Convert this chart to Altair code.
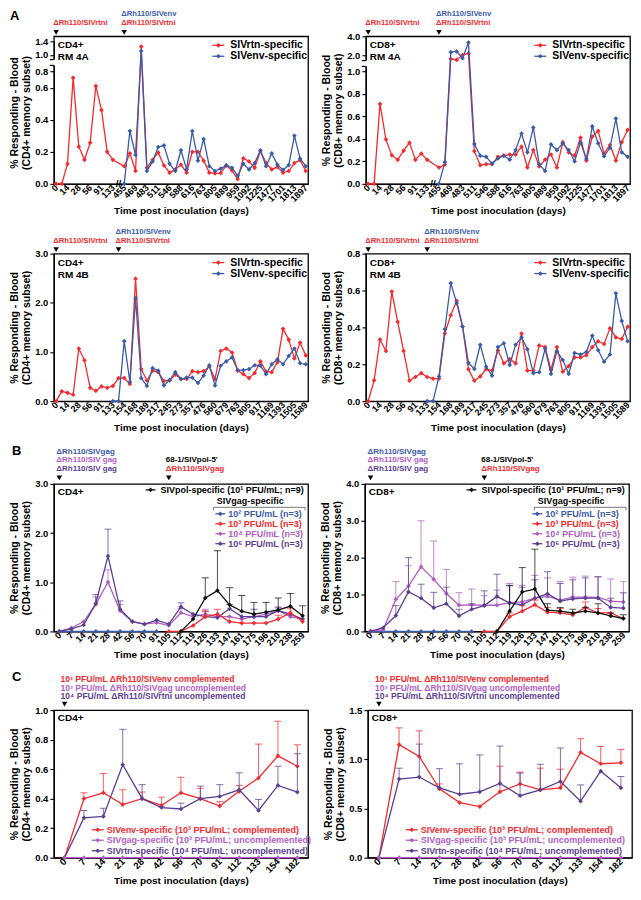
import json
import altair as alt
import pandas as pd

FONT = "Liberation Sans"
RED = "#F42A2E"
BLUE = "#3A5BA8"
PINK = "#B05EC2"
PURP = "#5B3F91"
BLK = "#111111"

# ---------------- Panel A ----------------
A_TOP_DAYS = [0, 7, 14, 21, 28, 42, 56, 70, 91, 112, 133, "brk",
              455, 462, 469, 476, 483, 497, 511, 525, 546, 560, 588, 602, 616,
              700, 763, 784, 805, 847, 889, 924, 959, 1022, 1092, 1162, 1225,
              1351, 1477, 1589, 1701, 1757, 1813, 1855, 1897]
A_TOP_LABELS = [0, 14, 28, 56, 91, 133, 455, 469, 483, 511, 546, 588, 616,
                763, 805, 889, 959, 1092, 1225, 1477, 1701, 1813, 1897]
A_BOT_DAYS = [0, 7, 14, 21, 28, 42, 56, 70, 91, 112, 133, 140, 154, 161, 168,
              175, 189, 203, 217, 231, 245, 259, 273, 301, 357, 413, 476, 518,
              560, 616, 679, 721, 763, 784, 805, 861, 917, 1043, 1169, 1281,
              1393, 1449, 1505, 1547, 1589]
A_BOT_LABELS = [0, 14, 28, 56, 91, 133, 154, 168, 189, 217, 245, 273, 357, 476,
                560, 679, 763, 805, 917, 1169, 1393, 1505, 1589]

A4A_CD4_RTN = [0, 0, 0.125, 0.72, 0.232, 0.15, 0.257, 0.62, 0.46, 0.2, 0.15, None,
               0.11, 0.19, 0.08, 1.24, 0.1, 0.15, 0.195, 0.115, 0.07, 0.09, 0.12,
               0.07, 0.2, 0.2, 0.145, 0.07, 0.065, 0.067, 0.115, 0.083, 0.03, 0.16,
               0.14, 0.1, 0.205, 0.13, 0.09, 0.105, 0.07, 0.08, 0.13, 0.148, 0.08]
A4A_CD4_ENV = [None] * 12 + [0, 0.33, 0.18, 1.11, 0.08, 0.14, 0.23, 0.24, 0.125, 0.08,
                             0.21, 0.09, 0.33, 0.145, 0.28, 0.11, 0.08, 0.095, 0.115,
                             0.1, 0.05, 0.125, 0.09, 0.13, 0.21, 0.11, 0.19, 0.12,
                             0.087, 0.117, 0.3, 0.158, 0.11]
A4A_CD8_RTN = [0, 0, 0.71, 0.395, 0.255, 0.213, 0.295, 0.366, 0.213, 0.268, 0.213, None,
               0.145, 0.17, 1.8, 1.73, 2.07, 2.24, 0.29, 0.165, 0.175, 0.175, 0.24,
               0.25, 0.26, 0.26, 0.33, 0.145, 0.3, 0.155, 0.215, 0.26, 0.145, 0.37,
               0.28, 0.25, 0.41, 0.207, 0.42, 0.47, 0.268, 0.345, 0.207, 0.37, 0.48]
A4A_CD8_ENV = [None] * 12 + [0, 0.193, 2.37, 2.44, 1.84, 3.36, 0.355, 0.25, 0.24, 0.18,
                             0.225, 0.25, 0.215, 0.3, 0.447, 0.28, 0.5, 0.173, 0.115,
                             0.35, 0.3, 0.36, 0.3, 0.2, 0.366, 0.222, 0.51, 0.36,
                             0.245, 0.32, 0.58, 0.28, 0.24]
A4B_CD4_RTN = [0, 0.2, 0.17, 0.13, 1.07, 0.83, 0.27, 0.21, 0.3, 0.27,
               0.31, 0.47, 0.47, 0.35, 2.49, 0.65, 0.42, 0.62, 0.59, 0.41,
               0.42, 0.54, 0.45, 0.45, 0.61, 0.59, 0.61, 0.71, 0.45, 1.02,
               1.07, 0.99, 0.62, 0.55, 0.47, 0.57, 0.81, 0.6, 0.59, 0.79,
               1.47, 1.25, 0.87, 1.19, 0.93]
A4B_CD4_ENV = [None] * 10 + [0, 0, 1.22, 0.39, 2.09, 0.47, 0.31, 0.67, 0.62, 0.32,
                             0.43, 0.59, 0.45, 0.48, 0.48, 0.37, 0.52, 0.73, 0.32, 0.72,
                             0.81, 0.89, 0.63, 0.63, 0.65, 0.73, 0.72, 0.55, 0.75, 0.85,
                             0.75, 0.92, 1.07, 0.77, 0.75]
A4B_CD8_RTN = [0, 0.113, 0.334, 0.272, 0.594, 0.43, 0.272, 0.111, 0.131, 0.152,
               0.131, 0.122, 0.122, 0.367, 0.466, 0.544, 0.405, 0.173, 0.111, 0.134,
               0.173, 0.166, 0.276, 0.205, 0.228, 0.205, 0.367, 0.166, 0.166, 0.302,
               0.293, 0.17, 0.293, 0.16, 0.19, 0.237, 0.237, 0.249, 0.293, 0.325,
               0.31, 0.395, 0.346, 0.337, 0.403]
A4B_CD8_ENV = [None] * 10 + [0, 0, 0.134, 0.39, 0.64, 0.532, 0.405, 0.208, 0.175, 0.306,
                             0.187, 0.138, 0.293, 0.314, 0.196, 0.306, 0.346, 0.281,
                             0.152, 0.157, 0.284, 0.148, 0.27, 0.223, 0.148, 0.261,
                             0.253, 0.267, 0.355, 0.276, 0.214, 0.253, 0.585, 0.435,
                             0.325]

# ---------------- Panel B ----------------
B_DAYS = [0, 7, 14, 21, 28, 42, 56, 70, 91, 105, 112, 119, 126, 133, 147, 161,
          175, 196, 210, 238, 259]
B_CD4_G2 = [0] * 9 + [None] * 12
B_CD4_G3 = [None] * 9 + [0, 0, 0.12, 0.3, 0.35, 0.2, 0.17, 0.17, 0.17, 0.25, 0.38, 0.2]
B_CD4_G3_ERR = [None] * 12 + [0.42, 0.45, None, None, None, None, 0.33, 0.46, None]
B_CD4_POL = [None] * 10 + [0, 0.25, 0.68, 0.83, 0.54, 0.41, 0.35, 0.39, 0.44, 0.51, 0.32]
B_CD4_POL_ERR = [None] * 12 + [1.09, 1.64, 0.89, 0.73, 0.59, 0.59, 0.68, 0.77, 0.52]
B_CD4_G4 = [0, 0.07, 0.2, 0.55, 1.0, 0.42, 0.2, 0.15, 0.18, 0.12, 0.38, 0.3, 0.35,
            0.3, 0.3, 0.25, 0.3, 0.35, 0.42, 0.3, 0.25]
B_CD4_G4_ERR = [None, None, None, 0.7, 1.25, 0.55, None, None, None, None, 0.47,
                None, 0.45, None, None, None, None, None, 0.5, None, None]
B_CD4_G6 = [0, 0.05, 0.13, 0.57, 1.53, 0.45, 0.2, 0.15, 0.23, 0.15, 0.5, 0.35, 0.3,
            0.28, 0.46, 0.3, 0.3, 0.3, 0.42, 0.35, 0.25]
B_CD4_G6_ERR = [None, None, None, 0.75, 2.08, 0.62, None, None, None, None, 0.58,
                None, 0.4, None, 0.55, None, 0.45, None, 0.48, None, None]

B_CD8_G2 = [0] * 9 + [None] * 12
B_CD8_G3 = [None] * 9 + [0, 0, 0.4, 0.55, 0.72, 0.52, 0.5, 0.45, 0.65, 0.5, 0.5, 0.35]
B_CD8_G3_ERR = [None] * 11 + [0.5, 0.7, 0.85, 0.65, 0.62, None, 0.8, 0.62, None, None]
B_CD8_POL = [None] * 10 + [0, 0.55, 1.07, 1.15, 0.58, 0.55, 0.5, 0.55, 0.5, 0.42, 0.35]
B_CD8_POL_ERR = [None] * 11 + [1.24, 1.73, 2.23, 0.75, 0.65, 0.6, 0.65, 0.75, 0.5, 0.45]
B_CD8_G4 = [0, 0.05, 0.87, 1.23, 1.75, 1.41, 1.03, 0.71, 0.72, 0.71, 0.71, 0.78, 0.8,
            0.9, 0.95, 0.85, 0.93, 0.93, 0.92, 0.82, 0.8]
B_CD8_G4_ERR = [None, None, 1.35, 1.78, 3.0, 2.45, 1.68, 1.05, 1.15, 0.97, 1.12, 1.3,
                1.25, 1.52, 1.45, 1.35, 1.47, 1.5, 1.48, 1.42, 1.35]
B_CD8_G6 = [0, 0.1, 0.43, 1.07, 0.9, 0.64, 0.75, 0.42, 0.6, 0.7, 0.95, 0.77, 0.72,
            0.9, 1.02, 0.82, 0.88, 0.9, 0.9, 0.65, 0.63]
B_CD8_G6_ERR = [None, None, 0.7, 2.0, 1.28, 1.06, 1.2, 0.6, 0.75, 1.1, 1.55, 1.25,
                1.2, 1.4, 1.62, 1.3, 1.4, 1.45, 1.48, 0.9, 1.05]

# ---------------- Panel C ----------------
C_DAYS = [0, 7, 14, 21, 28, 42, 56, 70, 91, 112, 133, 154, 182]
C_CD4_ENV = [0, 0.40, 0.44, 0.36, 0.40, 0.355, 0.44, 0.40, 0.35, 0.45, 0.54, 0.69, 0.62]
C_CD4_ENV_ERR = [None, 0.44, 0.57, 0.46, 0.445, 0.41, 0.545, 0.47, 0.38, 0.49, 0.77, 0.925, 0.765]
C_CD4_RTN = [0, 0.27, 0.28, 0.63, 0.40, 0.34, 0.33, 0.40, 0.415, 0.46, 0.32, 0.49, 0.445]
C_CD4_RTN_ERR = [None, 0.32, 0.335, 0.87, 0.495, 0.345, 0.37, 0.485, 0.495, 0.575, 0.395, 0.62, 0.705]
C_CD4_GAG = [0] * 13
C_CD8_ENV = [0, 1.15, 1.03, 0.70, 0.56, 0.52, 0.67, 0.75, 0.69, 0.71, 1.07, 0.955, 0.965]
C_CD8_ENV_ERR = [None, 1.32, 1.29, 0.75, None, None, 0.93, 0.87, 0.91, 0.90, 1.21, 1.13, 1.10]
C_CD8_RTN = [0, 0.80, 0.82, 0.71, 0.645, 0.67, 0.755, 0.63, 0.69, 0.775, 0.575, 0.88, 0.71]
C_CD8_RTN_ERR = [None, 0.91, 1.155, 0.905, 0.955, 1.045, 1.135, 0.86, 0.95, 1.115, 0.74, None, 0.825]
C_CD8_GAG = [0] * 13

YT_CD4 = ["% Responding - Blood", "(CD4+ memory subset)"]
YT_CD8 = ["% Responding - Blood", "(CD8+ memory subset)"]
XT = "Time post inoculation (days)"


def make_x(days, pad, shown=None, lsize=9):
    days_s = [str(d) for d in days]
    kw = dict(labelAngle=-45, labelAlign="right", labelBaseline="middle",
              labelPadding=2, ticks=False, labelOverlap=False, title=XT,
              labelFontSize=lsize)
    if shown is not None:
        kw["labelExpr"] = ("indexof(%s, datum.label) >= 0 ? datum.label : ''"
                           % json.dumps([str(s) for s in shown]))
    return alt.X("d:N", scale=alt.Scale(type="point", domain=days_s, padding=pad),
                 axis=alt.Axis(**kw))


def make_y(field, domain, values, title, rng=None):
    sk = dict(domain=domain, nice=False, zero=False)
    if rng is not None:
        sk["range"] = rng
    return alt.Y(field + ":Q", scale=alt.Scale(**sk),
                 axis=alt.Axis(values=values, format=".1f", title=title,
                               labelOverlap=False, tickSize=4))


def series_layers(x, y, ye, days, vals, errs, color, size=22):
    n = len(days)
    df = pd.DataFrame({"d": [str(d) for d in days], "i": list(range(n)),
                       "v": pd.to_numeric(pd.Series(vals, dtype="object")),
                       "e": pd.to_numeric(pd.Series(errs if errs else [None] * n, dtype="object"))})
    df = df[df["v"].notna()]
    out = []
    if errs:
        de = df[df["e"].notna() & (df["e"] > df["v"] + 1e-9)]
        if len(de):
            out.append(alt.Chart(de).mark_rule(color=color, strokeWidth=1, opacity=0.75)
                       .encode(x=x, y=y, y2="e:Q"))
            out.append(alt.Chart(de).mark_tick(color=color, thickness=1, size=7, opacity=0.75)
                       .encode(x=x, y=ye))
    out.append(alt.Chart(df).mark_line(color=color, strokeWidth=1.3)
               .encode(x=x, y=y, order="i:Q"))
    out.append(alt.Chart(df).mark_point(shape="diamond", filled=True, color=color,
                                        size=size, opacity=1)
               .encode(x=x, y=y))
    return out


def ann(x, day, text, color, yy, size=8.0, dx=-3, align="left"):
    df = pd.DataFrame({"d": [str(day)], "t": [text]})
    return (alt.Chart(df)
            .mark_text(font=FONT, fontSize=size, fontWeight="bold", color=color,
                       align=align, baseline="middle", dx=dx)
            .encode(x=x, y=alt.value(yy), text="t:N"))


def arrow(x, day, yy=-4):
    df = pd.DataFrame({"d": [str(day)]})
    return (alt.Chart(df)
            .mark_point(shape="triangle-down", filled=True, color="black", size=30, opacity=1)
            .encode(x=x, y=alt.value(yy)))


def ftxt(text, xx, yy, color="black", size=10, align="left"):
    df = pd.DataFrame({"t": [text]})
    return (alt.Chart(df)
            .mark_text(font=FONT, fontSize=size, fontWeight="bold", color=color,
                       align=align, baseline="middle")
            .encode(x=alt.value(xx), y=alt.value(yy), text="t:N"))


def frule(x0, x1, yy, color="black", sw=1.3, y1=None):
    one = pd.DataFrame({"a": [0]})
    enc = dict(x=alt.value(x0), x2=alt.value(x1), y=alt.value(yy))
    if y1 is not None:
        enc["y2"] = alt.value(y1)
    return alt.Chart(one).mark_rule(color=color, strokeWidth=sw).encode(**enc)


def ybreak(y0, y1):
    one = pd.DataFrame({"a": [0]})
    mask = (alt.Chart(one).mark_rect(color="white", opacity=1)
            .encode(x=alt.value(-2), x2=alt.value(2), y=alt.value(y0), y2=alt.value(y1)))
    return [mask, frule(-4, 0, y0, "black", 1.2), frule(-4, 0, y1, "black", 1.2)]


def leg(x0, xt, yy, text, color, tcolor, size, ln=12):
    one = pd.DataFrame({"a": [0]})
    p = (alt.Chart(one).mark_point(shape="diamond", filled=True, color=color, size=22, opacity=1)
         .encode(x=alt.value(x0 + ln / 2), y=alt.value(yy)))
    return [frule(x0, x0 + ln, yy, color), p, ftxt(text, xt, yy, tcolor, size)]


WL, WR = 255, 265
HA, HB, HC = 148, 148, 148


def panel_a(w, h, days, shown, rtn, env, ydom, yrng, yvals, ytitle, cell, rm,
            arrow2, letter=None, brk=False, ybrk=None):
    x = make_x(days, 0.4, shown)
    y = make_y("v", ydom, yvals, ytitle, yrng)
    ye = make_y("e", ydom, yvals, ytitle, yrng)
    layers = []
    layers += series_layers(x, y, ye, days, rtn, None, RED)
    layers += series_layers(x, y, ye, days, env, None, BLUE)
    layers += [arrow(x, 0), ann(x, 0, "ΔRh110/SIVrtni", RED, -13, size=7.7),
               arrow(x, arrow2), ann(x, arrow2, "ΔRh110/SIVenv", BLUE, -22, size=7.7),
               ann(x, arrow2, "ΔRh110/SIVrtni", RED, -13, size=7.7)]
    layers += [ftxt(cell, 4, 9), ftxt(rm, 4, 21)]
    layers += leg(w - 96, w - 78, 9, "SIVrtn-specific", RED, "black", 10.5)
    layers += leg(w - 96, w - 78, 20, "SIVenv-specific", BLUE, "black", 10.5)
    if brk:
        layers.append(ann(x, "brk", "//", "black", h, size=10, dx=0, align="center"))
    if ybrk:
        layers += ybreak(*ybrk)
    if letter:
        layers.append(ftxt(letter, -44, -20, "black", 13))
    return alt.layer(*layers).properties(width=w, height=h)


def panel_b(w, h, g2, g3, g3e, pol, pole, g4, g4e, g6, g6e, ydom, yvals, ytitle,
            cell, gx, letter=None):
    x = make_x(B_DAYS, 0.45)
    y = make_y("v", ydom, yvals, ytitle)
    ye = make_y("e", ydom, yvals, ytitle)
    d = B_DAYS
    layers = []
    layers += series_layers(x, y, ye, d, g2, None, BLUE)
    layers += series_layers(x, y, ye, d, g4, g4e, PINK)
    layers += series_layers(x, y, ye, d, g6, g6e, PURP)
    layers += series_layers(x, y, ye, d, g3, g3e, RED)
    layers += series_layers(x, y, ye, d, pol, pole, BLK)
    layers += [arrow(x, 0, -6), ann(x, 0, "ΔRh110/SIVgag", BLUE, -32),
               ann(x, 0, "ΔRh110/SIV gag", PINK, -23.5),
               ann(x, 0, "ΔRh110/SIV gag", PURP, -15),
               arrow(x, 105, -6), ann(x, 105, "68-1/SIVpol-5'", "black", -24),
               ann(x, 105, "ΔRh110/SIVgag", RED, -15)]
    layers.append(ftxt(cell, 4, 8))
    layers += leg(w - 163, w - 148, 6, "SIVpol-specific (10¹ PFU/mL; n=9)", BLK, "black", 9, ln=10)
    layers.append(ftxt("SIVgag-specific", w - 58, 17, "black", 9, align="center"))
    layers.append(frule(w - 95, w - 3, 23.5, "#777777", 1))
    layers.append(frule(w - 95, w - 95, 23.5, "#777777", 1, y1=26.5))
    layers.append(frule(w - 3, w - 3, 23.5, "#777777", 1, y1=26.5))
    for k, (lab, col) in enumerate([("10² PFU/mL (n=3)", BLUE), ("10³ PFU/mL (n=3)", RED),
                                     ("10⁴ PFU/mL (n=3)", PINK), ("10⁶ PFU/mL (n=3)", PURP)]):
        layers += leg(w - gx - 13, w - gx, 30 + 10 * k, lab, col, col, 9, ln=10)
    if letter:
        layers.append(ftxt(letter, -42, -33, "black", 13))
    return alt.layer(*layers).properties(width=w, height=h)


def panel_c(w, h, env, enve, gag, rtn, rtne, ydom, yvals, ytitle, cell, letter=None):
    x = make_x(C_DAYS, 0.55, lsize=9.5)
    y = make_y("v", ydom, yvals, ytitle)
    ye = make_y("e", ydom, yvals, ytitle)
    d = C_DAYS
    layers = []
    layers += series_layers(x, y, ye, d, env, enve, RED)
    layers += series_layers(x, y, ye, d, rtn, rtne, PURP)
    layers += series_layers(x, y, ye, d, gag, None, PINK)
    layers += [arrow(x, 0, -6),
               ann(x, 0, "10³ PFU/mL ΔRh110/SIVenv complemented", RED, -31, size=8.6, dx=-4),
               ann(x, 0, "10³ PFU/mL ΔRh110/SIVgag uncomplemented", PINK, -22.5, size=8.6, dx=-4),
               ann(x, 0, "10⁴ PFU/mL ΔRh110/SIVrtni uncomplemented", PURP, -14, size=8.6, dx=-4)]
    layers.append(ftxt(cell, 4, 8))
    for k, (lab, col) in enumerate([("SIVenv-specific (10³ PFU/mL; complemented)", RED),
                                     ("SIVgag-specific (10³ PFU/mL; uncomplemented)", PINK),
                                     ("SIVrtn-specific (10⁴ PFU/mL; uncomplemented)", PURP)]):
        layers += leg(38, 53, h - 28 + 10.5 * k, lab, col, col, 9)
    if letter:
        layers.append(ftxt(letter, -42, -33, "black", 13))
    return alt.layer(*layers).properties(width=w, height=h)


sA = HA / 152.0
a_tl = panel_a(WL, HA, A_TOP_DAYS, A_TOP_LABELS, A4A_CD4_RTN, A4A_CD4_ENV,
               [0, 0.6, 0.8, 1.0, 1.4], [HA, 53 * sA, 36 * sA, 19 * sA, 5 * sA],
               [0, 0.2, 0.4, 0.6, 0.8, 1.0, 1.4], YT_CD4, "CD4+", "RM 4A", 455,
               letter="A", brk=True, ybrk=(24 * sA, 30 * sA))
a_tr = panel_a(WR, HA, A_TOP_DAYS, A_TOP_LABELS, A4A_CD8_RTN, A4A_CD8_ENV,
               [0, 1.0, 2.0, 4.0], [HA, 36 * sA, 20 * sA, 0],
               [0, 0.2, 0.4, 0.6, 0.8, 1.0, 2.0, 4.0], YT_CD8, "CD8+", "RM 4A", 455,
               brk=True, ybrk=(25 * sA, 31 * sA))
a_bl = panel_a(WL, HA, A_BOT_DAYS, A_BOT_LABELS, A4B_CD4_RTN, A4B_CD4_ENV,
               [0, 3.0], None, [0, 1.0, 2.0, 3.0], YT_CD4, "CD4+", "RM 4B", 140)
a_br = panel_a(WR, HA, A_BOT_DAYS, A_BOT_LABELS, A4B_CD8_RTN, A4B_CD8_ENV,
               [0, 0.8], None, [0, 0.2, 0.4, 0.6, 0.8], YT_CD8, "CD8+", "RM 4B", 133)

b_l = panel_b(WL, HB, B_CD4_G2, B_CD4_G3, B_CD4_G3_ERR, B_CD4_POL, B_CD4_POL_ERR,
              B_CD4_G4, B_CD4_G4_ERR, B_CD4_G6, B_CD4_G6_ERR, [0, 3.0],
              [0, 1.0, 2.0, 3.0], YT_CD4, "CD4+", 80, letter="B")
b_r = panel_b(WR, HB, B_CD8_G2, B_CD8_G3, B_CD8_G3_ERR, B_CD8_POL, B_CD8_POL_ERR,
              B_CD8_G4, B_CD8_G4_ERR, B_CD8_G6, B_CD8_G6_ERR, [0, 4.0],
              [0, 1.0, 2.0, 3.0, 4.0], YT_CD8, "CD8+", 84)

c_l = panel_c(WL, HC, C_CD4_ENV, C_CD4_ENV_ERR, C_CD4_GAG, C_CD4_RTN, C_CD4_RTN_ERR,
              [0, 1.0], [0, 0.2, 0.4, 0.6, 0.8, 1.0], YT_CD4, "CD4+", letter="C")
c_r = panel_c(WR, HC, C_CD8_ENV, C_CD8_ENV_ERR, C_CD8_GAG, C_CD8_RTN, C_CD8_RTN_ERR,
              [0, 1.5], [0, 0.5, 1.0, 1.5], YT_CD8, "CD8+")

chart = alt.vconcat(
    alt.hconcat(a_tl, a_tr, spacing=10),
    alt.hconcat(a_bl, a_br, spacing=10),
    alt.hconcat(b_l, b_r, spacing=10),
    alt.hconcat(c_l, c_r, spacing=10),
    spacing=10,
).properties(padding={"left": 0, "top": 0, "right": 0, "bottom": 0}).configure_view(
    stroke="black", strokeWidth=1.3
).configure_axis(
    labelFont=FONT, titleFont=FONT, labelFontWeight="bold", titleFontWeight="bold",
    labelColor="black", titleColor="black", domainColor="black", tickColor="black",
    grid=False, labelFontSize=9.5, titleFontSize=10.5, domainWidth=1.2, tickWidth=1.1,
).configure_axisY(
    titleFontSize=10.5, titleLineHeight=12.5, labelPadding=2, titlePadding=3
).configure_axisX(
    titleFontSize=10, titlePadding=2
)

chart.save("out.html", embed_options={"renderer": "svg", "actions": False})
